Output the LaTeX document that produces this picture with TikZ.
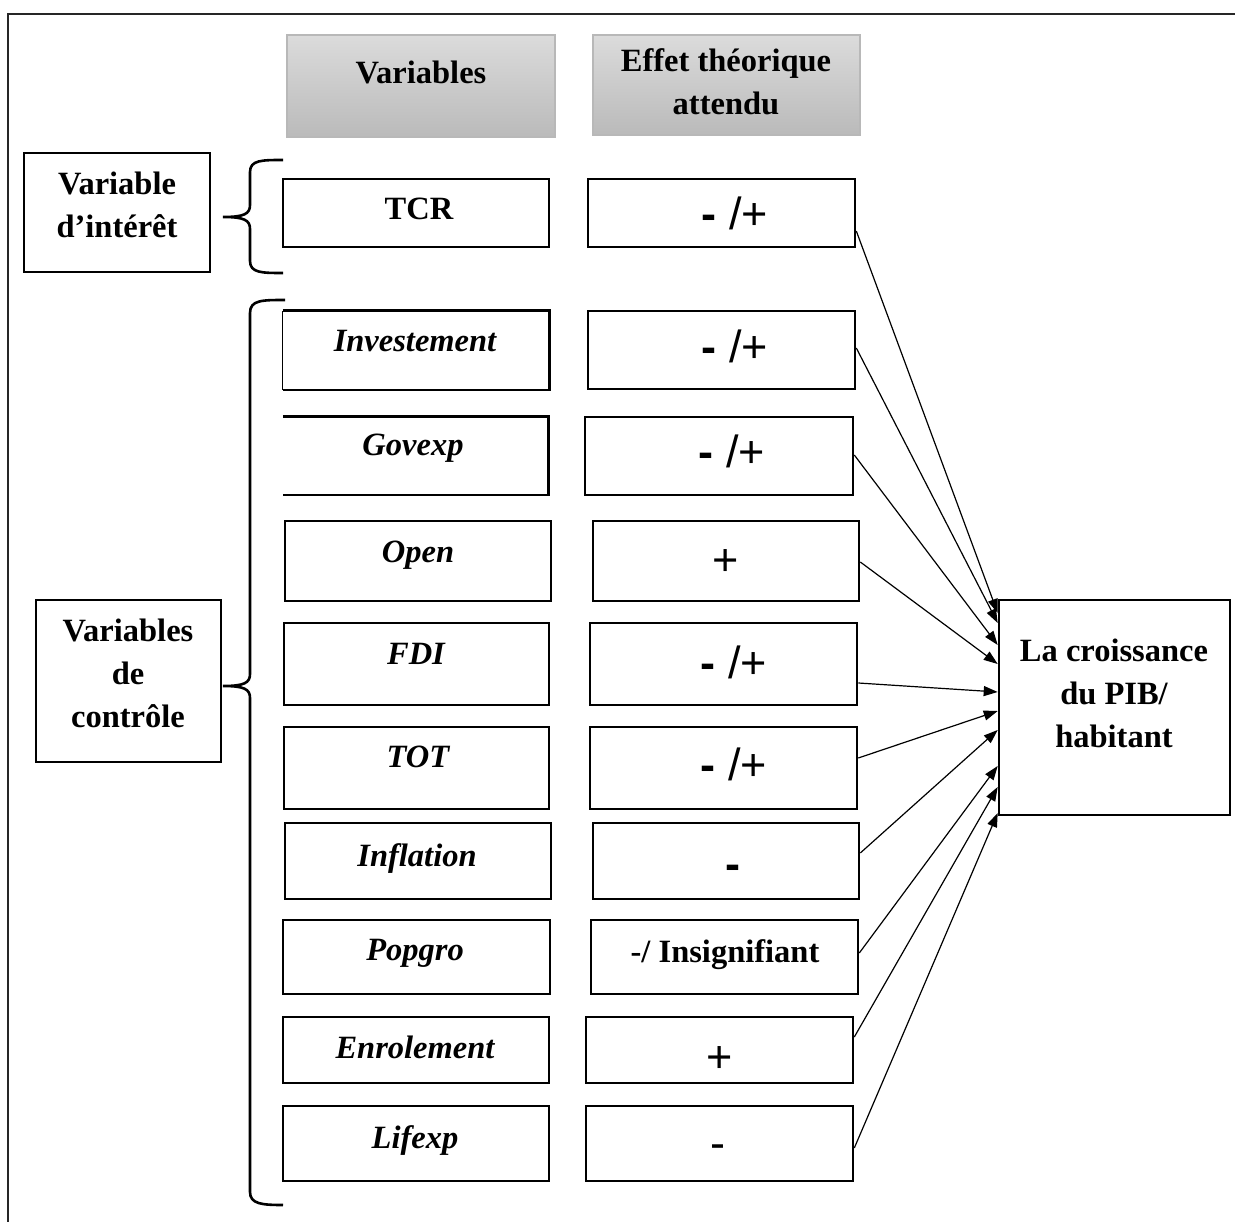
\documentclass[tikz,border=0pt]{standalone}
\usepackage{fontspec}
\setmainfont{Liberation Serif}
\newfontfamily\arialfont{Liberation Sans}
\usetikzlibrary{arrows.meta,fit,calc}

\begin{document}
\begin{tikzpicture}[x=1pt,y=-1pt,
  cell/.style={draw, line width=2.6pt, inner sep=0pt},
  opencell/.style={draw=none, inner sep=0pt},
  hdr/.style={draw=black!28, line width=1.2pt, top color=black!14, bottom color=black!27, inner sep=0pt},
  lab/.style={font=\fontsize{32.5}{43}\selectfont\bfseries, align=center, anchor=base, inner sep=0pt},
  ilab/.style={font=\fontsize{32.5}{38}\selectfont\bfseries\itshape, anchor=base, inner sep=0pt},
  sgn/.style={font=\arialfont\fontsize{45}{48}\selectfont, anchor=base, inner sep=0pt},
  brace/.style={line width=2.6pt},
  arr/.style={line width=1.2pt, -{Triangle[length=14pt,width=10pt]}}
]
\useasboundingbox (0,0) rectangle (1235,1222);

% outer frame
\draw[line width=2.8pt, black!85] (8,1222) -- (8,14) -- (1235,14);

% column headers
\node[hdr, fit={(287,35) (555,137)}] (h1) {};
\node[lab] (h1t) at (421,84) {Variables};
\node[hdr, fit={(593,35) (860,135)}] (h2) {};
\node[lab] (h2t) at (726,115) {Effet théorique\\attendu};

% group labels
\node[cell, fit={(24,153) (210,272)}] (g1) {};
\node[lab] (g1t) at (117,238) {Variable\\d’intérêt};
\node[cell, fit={(36,600) (221,762)}] (g2) {};
\node[lab] (g2t) at (128,727) {Variables\\de\\contrôle};

% braces
\draw[brace] (283,160) .. controls (262,160) and (250,160) .. (250,172)
  -- (250,205) .. controls (250,214) and (244,217) .. (223,217)
  .. controls (244,217) and (250,220) .. (250,229)
  -- (250,261) .. controls (250,273) and (262,273) .. (283,273);
\draw[brace] (285,300) .. controls (262,300) and (250,300) .. (250,313)
  -- (250,674) .. controls (250,683) and (244,686) .. (223,686)
  .. controls (244,686) and (250,689) .. (250,698)
  -- (250,1192) .. controls (250,1204) and (262,1205) .. (283,1205);

% variables column
\node[cell, fit={(283,179) (549,247)}] (l1) {};
\node[opencell, fit={(283,311) (549,390)}] (l2) {};
\draw[line width=2.6pt] (l2.north west) -- (l2.north east) -- (l2.south east) -- (l2.south west);
\draw[line width=0.9pt] (l2.north west) -- (l2.south west);
\node[opencell, fit={(283,417) (548,495)}] (l3) {};
\draw[line width=2.6pt] (l3.north west) -- (l3.north east) -- (l3.south east) -- (l3.south west);
\node[cell, fit={(285,521) (551,601)}] (l4) {};
\node[cell, fit={(284,623) (549,705)}] (l5) {};
\node[cell, fit={(284,727) (549,809)}] (l6) {};
\node[cell, fit={(285,823) (551,899)}] (l7) {};
\node[cell, fit={(283,920) (550,994)}] (l8) {};
\node[cell, fit={(283,1017) (549,1083)}] (l9) {};
\node[cell, fit={(283,1106) (549,1181)}] (l10) {};

\node[lab] (l1t) at (419,220) {TCR};
\node[ilab] (l2t) at (415,352) {Investement};
\node[ilab] (l3t) at (413,456) {Govexp};
\node[ilab] (l4t) at (418,562) {Open};
\node[ilab] (l5t) at (416,664) {FDI};
\node[ilab] (l6t) at (418,767) {TOT};
\node[ilab] (l7t) at (417,866) {Inflation};
\node[ilab] (l8t) at (415,960) {Popgro};
\node[ilab] (l9t) at (415,1058) {Enrolement};
\node[ilab] (l10t) at (415,1148) {Lifexp};

% expected effect column
\node[cell, fit={(588,179) (855,247)}] (r1) {};
\node[cell, fit={(588,311) (855,389)}] (r2) {};
\node[cell, fit={(585,417) (853,495)}] (r3) {};
\node[cell, fit={(593,521) (859,601)}] (r4) {};
\node[cell, fit={(590,623) (857,705)}] (r5) {};
\node[cell, fit={(590,727) (857,809)}] (r6) {};
\node[cell, fit={(593,823) (859,899)}] (r7) {};
\node[cell, fit={(591,920) (858,994)}] (r8) {};
\node[cell, fit={(586,1017) (853,1083)}] (r9) {};
\node[cell, fit={(586,1106) (853,1181)}] (r10) {};

\node[sgn] (r1t) at (735,230) {{\bfseries -} /+};
\node[sgn] (r2t) at (735,363) {{\bfseries -} /+};
\node[sgn] (r3t) at (732,468) {{\bfseries -} /+};
\node[sgn] (r4t) at (726,575) {+};
\node[sgn] (r5t) at (734,678) {{\bfseries -} /+};
\node[sgn] (r6t) at (734,780) {{\bfseries -} /+};
\node[sgn] (r7t) at (733,879) {\bfseries -};
\node[lab] (r8t) at (725,962) {-/ Insignifiant};
\node[sgn] (r9t) at (720,1072) {+};
\node[sgn] (r10t) at (718,1158) {-};

% outcome
\node[cell, fit={(999,600) (1230,815)}] (out) {};
\node[lab] (outt) at (1114,747) {La croissance\\du PIB/\\habitant};

% effects on the outcome
\draw[arr] ([yshift=-18pt]r1.east) -- ([yshift=94.5pt]out.west);
\draw[arr] ([yshift=2pt]r2.east) -- ([yshift=84.5pt]out.west);
\draw[arr] ([yshift=1pt]r3.east) -- ([yshift=62.5pt]out.west);
\draw[arr] ([yshift=-1pt]r4.east) -- ([yshift=43.5pt]out.west);
\draw[arr] ([yshift=-19pt]r5.east) -- ([yshift=15.5pt]out.west);
\draw[arr] ([yshift=10pt]r6.east) -- ([yshift=-3.5pt]out.west);
\draw[arr] ([yshift=8pt]r7.east) -- ([yshift=-22.5pt]out.west);
\draw[arr] ([yshift=4pt]r8.east) -- ([yshift=-58.5pt]out.west);
\draw[arr] ([yshift=13pt]r9.east) -- ([yshift=-79.5pt]out.west);
\draw[arr] ([yshift=-4.5pt]r10.east) -- ([yshift=-105.5pt]out.west);
\end{tikzpicture}
\end{document}
